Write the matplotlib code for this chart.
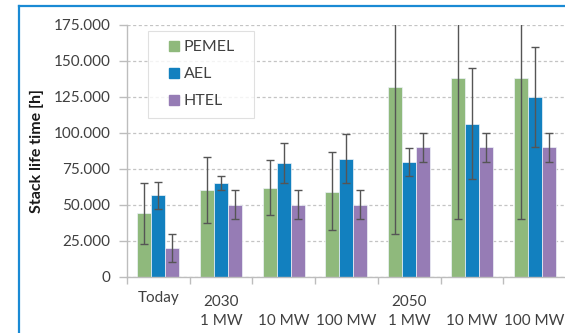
import matplotlib
matplotlib.use("Agg")
import matplotlib.pyplot as plt
import matplotlib.transforms as mtransforms
from matplotlib.lines import Line2D
from matplotlib.ticker import FuncFormatter, FixedLocator
import numpy as np

categories = ["Today", "2030\n1 MW", "\n10 MW", "\n100 MW", "2050\n1 MW", "\n10 MW", "\n100 MW"]
series = ["PEMEL", "AEL", "HTEL"]

pemel = [44000, 60000, 62000, 59000, 132000, 138000, 138000]
pemel_low = [23000, 37000, 43000, 32500, 30000, 40000, 40000]
pemel_high = [65000, 83000, 81000, 87000, 185000, 185000, 185000]

ael = [56500, 65000, 79000, 82000, 80000, 106500, 125000]
ael_low = [47000, 60000, 65000, 65000, 70000, 68000, 90000]
ael_high = [66000, 70000, 93000, 99000, 89500, 145000, 160000]

htel = [20000, 50000, 50000, 50000, 90000, 90000, 90000]
htel_low = [10000, 40000, 40000, 40000, 80000, 80000, 80000]
htel_high = [30000, 60000, 60000, 60000, 100000, 100000, 100000]

colors = ["#8fb97c", "#1280bf", "#967cb5"]

plt.rcParams["font.family"] = ["Lato", "DejaVu Sans"]

W, H = 565, 333
fig = plt.figure(figsize=(W / 100, H / 100), dpi=100)

# outer chart-area border (left and top edges)
fig.add_artist(Line2D([18.5 / W, 18.5 / W], [0, 1 - 5.5 / H], color="#1a8ad4",
                      lw=1.6, transform=fig.transFigure))
fig.add_artist(Line2D([18.5 / W, 1.0], [1 - 5.5 / H, 1 - 5.5 / H], color="#1a8ad4",
                      lw=1.6, transform=fig.transFigure))

left, right = 127, 565
y0, y1 = 276.7, 25.0
ax = fig.add_axes([left / W, 1 - y0 / H, (right - left) / W, (y0 - y1) / H])

spacing = 62.7
x = np.arange(len(categories))
bw = 14 / spacing
all_vals = [pemel, ael, htel]
lows = [pemel_low, ael_low, htel_low]
highs = [pemel_high, ael_high, htel_high]

for i, (name, vals, lo, hi, c) in enumerate(zip(series, all_vals, lows, highs, colors)):
    xs = x + (i - 1) * bw
    vals = np.array(vals)
    ax.bar(xs, vals, width=bw, color=c, edgecolor="#eef3f8", linewidth=0.5, zorder=2)
    yerr = np.vstack([vals - np.array(lo), np.array(hi) - vals])
    ax.errorbar(xs, vals, yerr=yerr, fmt="none", ecolor="#555555", elinewidth=1.0,
                capsize=3, capthick=1.0, zorder=3)

ax.set_xlim(-0.5, -0.5 + (right - left) / spacing)
ax.set_ylim(0, 175000)
ax.set_yticks(np.arange(0, 175001, 25000))
ax.yaxis.set_major_formatter(FuncFormatter(lambda v, p: f"{int(v):,}".replace(",", ".")))
ax.grid(axis="y", color="#c4c4c4", linestyle=(0, (2.5, 2)), linewidth=0.9, zorder=0)
ax.set_axisbelow(True)

for s in ["top", "right"]:
    ax.spines[s].set_visible(False)
for s in ["left", "bottom"]:
    ax.spines[s].set_color("#bdbdbd")
    ax.spines[s].set_linewidth(1.0)

ax.set_xticks(x)
ax.set_xticklabels(categories, linespacing=1.45, va="top")
ax.xaxis.set_minor_locator(FixedLocator(np.arange(-0.5, 6.0, 1.0)))
ax.tick_params(axis="x", which="major", length=0, pad=13, labelsize=11, labelcolor="#404040")
ax.tick_params(axis="x", which="minor", length=5, color="#bdbdbd", width=1.0)
ax.tick_params(axis="y", length=6, color="#bdbdbd", width=1.0, pad=6,
               labelsize=11, labelcolor="#404040")

# the single-line "Today" label sits a little higher than the two-line labels
today = ax.get_xticklabels()[0]
today.set_transform(today.get_transform() +
                    mtransforms.ScaledTranslation(0, 4 / 100, fig.dpi_scale_trans))

ax.set_ylabel("Stack life time [h]", fontsize=11.5, fontweight="bold", color="#1a1a1a",
              labelpad=7)

handles = [Line2D([], [], linestyle="none", marker="s", markersize=7.5,
                  markerfacecolor=c, markeredgecolor=c) for c in colors]
leg = ax.legend(handles, series, loc="upper left",
                bbox_to_anchor=(21 / 438, 0.978, 106 / 438, 0.0), mode="expand",
                fontsize=11.5, frameon=True, fancybox=False, edgecolor="#d9d9d9",
                handlelength=2.1, handletextpad=-0.45,
                labelspacing=0.8, borderpad=0.6, borderaxespad=0)
leg.get_frame().set_linewidth(0.8)
for t in leg.get_texts():
    t.set_color("#404040")

fig.savefig("out.png", dpi=100)
